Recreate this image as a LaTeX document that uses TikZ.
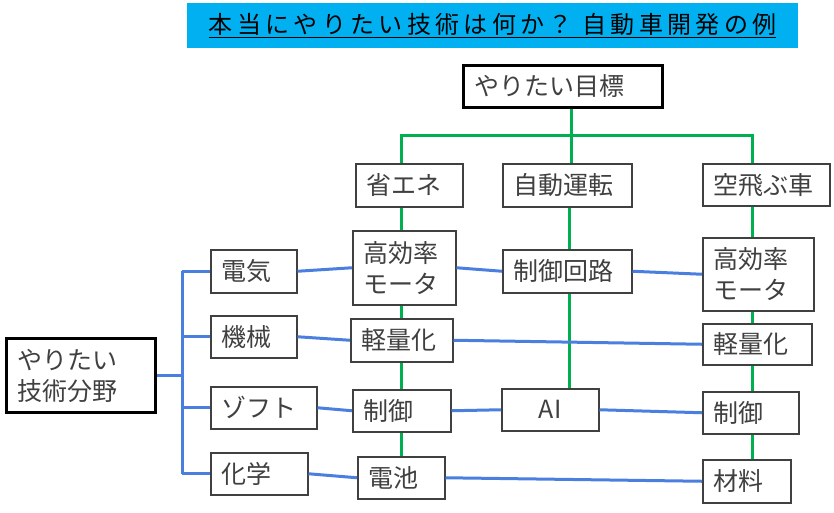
\documentclass[tikz,border=0pt]{standalone}
\usepackage{fontspec}
\setmainfont{Noto Sans CJK JP}
\newfontfamily\titlefont{Noto Sans CJK JP}[LetterSpace=18]
\definecolor{banner}{HTML}{00B0F0}
\definecolor{linegreen}{HTML}{00B050}
\definecolor{lineblue}{HTML}{4A7FE0}
\definecolor{boxgray}{HTML}{404040}

\begin{document}
\begin{tikzpicture}[
		x=1pt, y=-1pt,   % pixel grid, y downwards
		every node/.style={font=\fontsize{25}{31}\selectfont, text=boxgray},
		box/.style={draw=boxgray, line width=1.5pt, fill=white, anchor=north west,
			inner xsep=11pt, inner ysep=0pt, align=left},
		bigbox/.style={box, draw=black, line width=3pt},
		gline/.style={draw=linegreen, line width=3pt},
		bline/.style={draw=lineblue, line width=3pt}
		]
	\useasboundingbox (0,0) rectangle (834,512);
	
	\node[fill=banner, text=black, anchor=north west, minimum width=611pt, minimum height=45pt, inner sep=0pt] (title) at (187,3)
		{\titlefont\fontsize{24}{28}\selectfont\underline{本当にやりたい技術は何か？ 自動車開発の例}};
	
	\node[bigbox, text width=177pt, minimum height=42pt] (goal) at (462,64) {やりたい目標};
	\node[bigbox, text width=127pt, minimum height=74pt] (field) at (5,337) {やりたい\\技術分野};
	
	\node[box, text width=85pt, minimum height=43pt] (shoene) at (355,163) {省エネ};
	\node[box, text width=107pt, minimum height=43pt] (jido) at (502,163) {自動運転};
	\node[box, text width=105pt, minimum height=42pt] (sora) at (702,163) {空飛ぶ車};
	
	\node[box, text width=81pt, minimum height=74pt] (motorL) at (352,230) {高効率\\モータ};
	\node[box, text width=107pt, minimum height=43pt] (kairo) at (502,249) {制御回路};
	\node[box, text width=89pt, minimum height=73pt] (motorR) at (702,237) {高効率\\モータ};
	\node[box, text width=80pt, minimum height=43pt] (keiryoL) at (350,318) {軽量化};
	\node[box, text width=87pt, minimum height=41pt] (keiryoR) at (702,323) {軽量化};
	\node[box, text width=76pt, minimum height=42pt] (seigyoL) at (352,389) {制御};
	\node[box, text width=75pt, minimum height=42pt, align=center] (ai) at (501,388) {AI};
	\node[box, text width=74pt, minimum height=42pt] (seigyoR) at (702,391) {制御};
	\node[box, text width=65pt, minimum height=42pt] (denchi) at (357,456) {電池};
	\node[box, text width=66pt, minimum height=43pt] (zairyo) at (702,459) {材料};
	
	\node[box, text width=64pt, minimum height=43pt] (denki) at (210,249) {電気};
	\node[box, text width=64pt, minimum height=42pt] (kikai) at (210,315) {機械};
	\node[box, text width=84pt, minimum height=42pt] (soft) at (210,386) {ゾフト};
	\node[box, text width=75pt, minimum height=42pt] (kagaku) at (210,452) {化学};
	
	\coordinate (bus) at (571,135);
	\coordinate (colA) at (401,0);
	\coordinate (colB) at (569,0);
	\coordinate (colC) at (752,0);
	\coordinate (trunk) at (182,0);
	
	% goals
	\draw[gline] (goal.south -| bus) -- (jido.north -| bus);
	\draw[gline] (shoene.north -| colA) |- (bus) -| (sora.north -| colC);
	\foreach \a/\b in {shoene/motorL, motorL/keiryoL, keiryoL/seigyoL, seigyoL/denchi}
		\draw[gline] (\a.south -| colA) -- (\b.north -| colA);
	\foreach \a/\b in {sora/motorR, motorR/keiryoR, keiryoR/seigyoR, seigyoR/zairyo}
		\draw[gline] (\a.south -| colC) -- (\b.north -| colC);
	\draw[gline] (jido.south -| colB) -- (kairo.north -| colB);
	\draw[gline] (kairo.south -| colB) -- (ai.north -| colB);
	
	% fields
	\draw[bline] (field.east) -- (field.east -| trunk);
	\draw[bline] (denki.west -| trunk) -- (kagaku.west -| trunk);
	\foreach \n in {denki, kikai, soft, kagaku}
		\draw[bline] (\n.west -| trunk) -- (\n.west);
	\foreach \a/\b in {denki/motorL, motorL/kairo, kairo/motorR, kikai/keiryoL, keiryoL/keiryoR,
		soft/seigyoL, seigyoL/ai, ai/seigyoR, kagaku/denchi, denchi/zairyo}
		\draw[bline] (\a.east) -- (\b.west);
	
\end{tikzpicture}
\end{document}
